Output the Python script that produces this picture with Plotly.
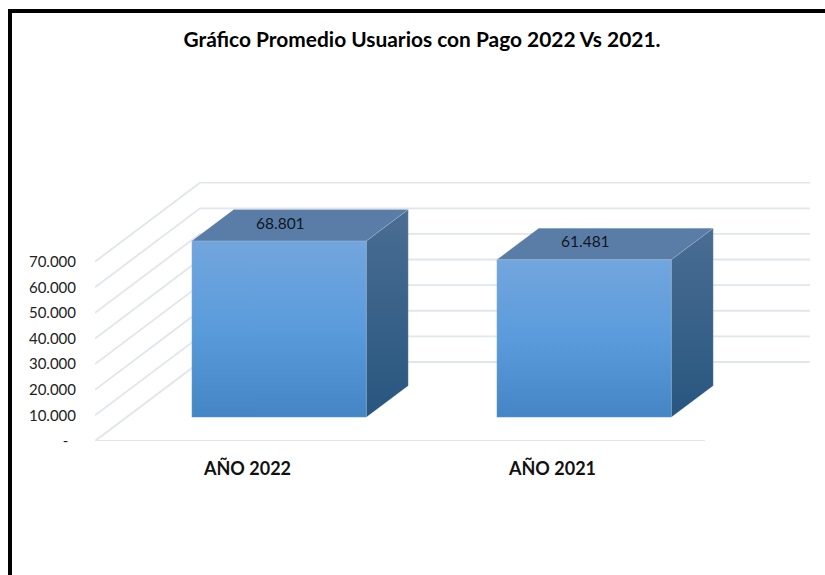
import plotly.graph_objects as go

categories = ["AÑO 2022", "AÑO 2021"]
values = [68801, 61481]
value_labels = ["68.801", "61.481"]
y_ticks = [0, 10000, 20000, 30000, 40000, 50000, 60000, 70000]
y_tick_labels = ["-\u00a0\u00a0", "10.000", "20.000", "30.000", "40.000", "50.000", "60.000", "70.000"]
title_text = "Gráfico Promedio Usuarios con Pago 2022 Vs 2021."

W, H = 825, 575
L, R, T, B = 95, 810, 182, 441
PX_PER_CAT = 305.0
PX_PER_UNIT = 25.62 / 10000
DEPTH_X = 105 / PX_PER_CAT
DEPTH_Y = 79 / PX_PER_UNIT
BAR_W = 0.572
D0, D1 = 0.30, 0.70
FONT = "Lato, Carlito, Calibri, sans-serif"
GRID = "#E1E5EC"

def proj(x, y, d):
    return x + d * DEPTH_X, y + d * DEPTH_Y

def poly(points, gradient=None, color=None):
    xs = [proj(*p)[0] for p in points] + [proj(*points[0])[0]]
    ys = [proj(*p)[1] for p in points] + [proj(*points[0])[1]]
    kw = dict(fillgradient=gradient) if gradient else dict(fillcolor=color)
    return go.Scatter(x=xs, y=ys, mode="lines", fill="toself", line=dict(width=0.5, color="rgba(220,230,242,0.35)"),
                      hoverinfo="skip", showlegend=False, cliponaxis=False, **kw)

x_min = -0.5
x_front_end = 1.5
x_back_end = x_min + (R - L) / PX_PER_CAT - DEPTH_X

fig = go.Figure()

# gridlines on the side wall and back wall
for t in y_ticks:
    fig.add_trace(go.Scatter(x=[proj(x_min, t, 0)[0], proj(x_min, t, 1)[0], proj(x_back_end, t, 1)[0]],
                             y=[proj(x_min, t, 0)[1], proj(x_min, t, 1)[1], proj(x_back_end, t, 1)[1]],
                             mode="lines", line=dict(color=GRID, width=1.8), hoverinfo="skip",
                             showlegend=False, cliponaxis=False))
# floor front edge
fig.add_trace(go.Scatter(x=[x_min, x_front_end], y=[0, 0], mode="lines", line=dict(color=GRID, width=1.8),
                         hoverinfo="skip", showlegend=False, cliponaxis=False))

front_grad = dict(type="vertical", colorscale=[[0, "#4485C6"], [0.5, "#5A9BDC"], [1, "#72A6DD"]])
side_grad = dict(type="vertical", colorscale=[[0, "#28567F"], [1, "#4A6D93"]])

for i, v in enumerate(values):
    a, b = i - BAR_W / 2, i + BAR_W / 2
    fig.add_trace(poly([(b, 0, D0), (b, 0, D1), (b, v, D1), (b, v, D0)], gradient=side_grad))
    fig.add_trace(poly([(a, v, D0), (b, v, D0), (b, v, D1), (a, v, D1)], color="#5A7DA8"))
    fig.add_trace(poly([(a, 0, D0), (b, 0, D0), (b, v, D0), (a, v, D0)], gradient=front_grad))
    fx, fy = proj(i, v, D0)
    fig.add_annotation(x=fx, y=fy, text=value_labels[i], showarrow=False, xshift=1.5, yshift=18.5,
                       font=dict(family=FONT, size=15.5, color="#10161F"))

def px_x(p): return (p - L) / (R - L)
def px_y(p): return (B - p) / (B - T)

fig.add_shape(type="path", xref="paper", yref="paper",
              path=f"M {px_x(10)} {px_y(580)} L {px_x(10)} {px_y(11)} L {px_x(830)} {px_y(11)}",
              line=dict(color="black", width=4))

fig.update_layout(
    width=W, height=H, autosize=False,
    margin=dict(l=L, r=W - R, t=T, b=H - B, pad=0),
    paper_bgcolor="white", plot_bgcolor="white",
    title=dict(text=f"<b>{title_text}</b>", x=422 / W, xanchor="center", y=1 - 40 / H, yanchor="middle",
               font=dict(family=FONT, size=20.9, color="black")),
    xaxis=dict(range=[x_min, x_min + (R - L) / PX_PER_CAT], tickmode="array", tickvals=[0, 1],
               ticktext=[f"<b>{c}</b>" for c in categories], showgrid=False, zeroline=False, showline=False,
               ticks="outside", ticklen=11, tickcolor="rgba(0,0,0,0)",
               tickfont=dict(family=FONT, size=18, color="#111111")),
    yaxis=dict(range=[0, (B - T) / PX_PER_UNIT], tickmode="array", tickvals=y_ticks, ticktext=y_tick_labels,
               showgrid=False, zeroline=False, showline=False, ticks="outside", ticklen=15,
               tickcolor="rgba(0,0,0,0)", tickfont=dict(family=FONT, size=15, color="#222222")),
)
fig.write_html("out.html", config={"displayModeBar": False}, post_script="document.body.style.margin='0';")
